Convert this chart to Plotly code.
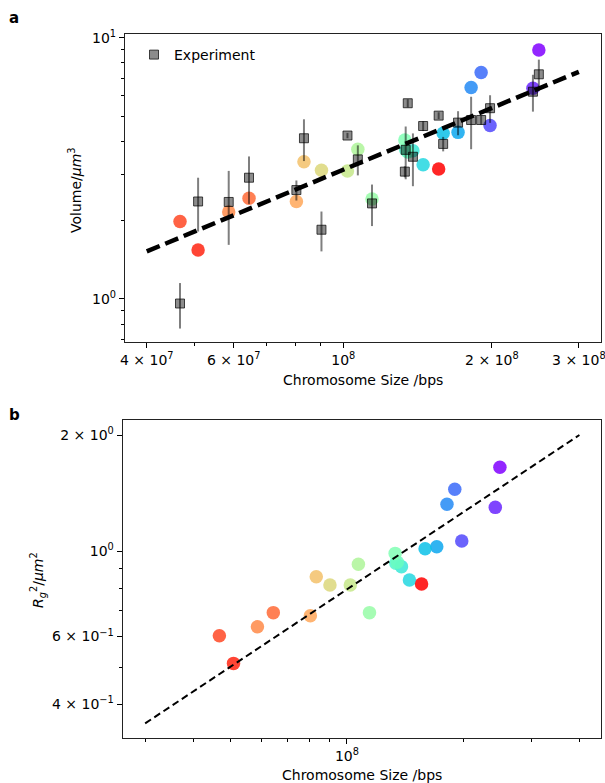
import math
import plotly.graph_objects as go

# ---------------- data ----------------
chromosomes = ["chr1", "chr2", "chr3", "chr4", "chr5", "chr6", "chr7", "chr8", "chr9",
               "chr10", "chr11", "chr12", "chr13", "chr14", "chr15", "chr16", "chr17",
               "chr18", "chr19", "chr20", "chr21", "chr22", "chrX"]
size_bp = [248.96e6, 242.19e6, 198.30e6, 190.21e6, 181.54e6, 170.81e6, 159.35e6,
           145.14e6, 138.39e6, 133.80e6, 135.09e6, 133.28e6, 114.36e6, 107.04e6,
           101.99e6, 90.34e6, 83.26e6, 80.37e6, 58.62e6, 64.44e6, 46.71e6, 50.82e6,
           156.04e6]

# panel a: simulated volume (circles)
volume_sim = [8.97, 6.40, 4.61, 7.35, 6.44, 4.34, 4.31, 3.26, 3.69, 3.72, 3.65, 4.06,
              2.41, 3.74, 3.09, 3.11, 3.35, 2.36, 2.15, 2.43, 1.98, 1.54, 3.14]
# panel a: experimental volume (squares) and errors
volume_exp = [7.24, 6.21, 5.37, 4.84, 4.84, 4.73, 3.92, 4.59, 3.50, 3.72, 5.61, 3.07,
              2.32, 3.42, 4.22, 1.84, 4.12, 2.61, 2.35, 2.91, 0.96, 2.36, 5.03]
volume_err = [1.00, 1.00, 0.65, 0.20, 1.10, 0.50, 0.25, 0.20, 0.80, 0.85, 0.20, 0.15,
              0.42, 0.45, 0.10, 0.32, 0.75, 0.23, 0.74, 0.60, 0.19, 0.55, 0.15]
fit_a_x = [4e7, 3e8]
fit_a_y = [1.52, 7.40]

# panel b: Rg^2
rg2 = [1.649, 1.298, 1.062, 1.446, 1.322, 1.026, 1.014, 0.841, 0.911, 0.929, 0.935,
       0.986, 0.692, 0.924, 0.816, 0.816, 0.858, 0.679, 0.636, 0.692, 0.603, 0.511,
       0.821]
fit_b_x = [3e7, 4e8]
fit_b_y = [0.357, 2.00]

# tick definitions
a_x_major = [4e7, 6e7, 1e8, 2e8, 3e8]
a_x_major_text = ["4 × 10<sup>7</sup>", "6 × 10<sup>7</sup>", "10<sup>8</sup>",
                  "2 × 10<sup>8</sup>", "3 × 10<sup>8</sup>"]
a_x_minor = [5e7, 7e7, 8e7, 9e7]
a_y_major = [1, 10]
a_y_major_text = ["10<sup>0</sup>", "10<sup>1</sup>"]
a_y_minor = [0.7, 0.8, 0.9, 2, 3, 4, 5, 6, 7, 8, 9]

b_x_major = [1e8]
b_x_major_text = ["10<sup>8</sup>"]
b_x_minor = [3e7, 4e7, 5e7, 6e7, 7e7, 8e7, 9e7, 2e8, 3e8, 4e8]
b_y_major = [0.4, 0.6, 1.0, 2.0]
b_y_major_text = ["4 × 10<sup>−1</sup>", "6 × 10<sup>−1</sup>", "10<sup>0</sup>",
                  "2 × 10<sup>0</sup>"]
b_y_minor = [0.5, 0.7, 0.8, 0.9]


# ---------------- style ----------------
def rainbow(c):
    r = min(1.0, max(0.0, abs(2 * c - 0.5)))
    g = min(1.0, max(0.0, math.sin(c * math.pi)))
    b = min(1.0, max(0.0, math.cos(c * math.pi / 2)))
    return "rgb(%d,%d,%d)" % (round(r * 255), round(g * 255), round(b * 255))


n = len(chromosomes)
colors = [rainbow(i / (n - 1)) for i in range(n)]

W, H = 605, 783
FONT = "DejaVu Sans"


def px_x(p):
    return p / W


def px_y(p):
    return 1 - p / H


fig = go.Figure()

# panel a circles
fig.add_trace(go.Scatter(
    x=size_bp, y=volume_sim, mode="markers", xaxis="x", yaxis="y",
    marker=dict(size=13.5, color=colors, opacity=0.85, line=dict(width=0)),
    showlegend=False, hoverinfo="skip"))
# panel a experiment squares
fig.add_trace(go.Scatter(
    x=size_bp, y=volume_exp, mode="markers", xaxis="x", yaxis="y",
    name="Experiment",
    error_y=dict(type="data", array=volume_err, visible=True,
                 color="rgba(0,0,0,0.5)", thickness=2, width=0),
    marker=dict(symbol="square", size=9, color="rgba(0,0,0,0.45)",
                line=dict(color="rgba(0,0,0,0.7)", width=1)),
    showlegend=True))
# panel a fit
fig.add_trace(go.Scatter(
    x=fit_a_x, y=fit_a_y, mode="lines", xaxis="x", yaxis="y",
    line=dict(color="black", width=4.5, dash="14px,6px"),
    showlegend=False, hoverinfo="skip"))

# panel b circles
fig.add_trace(go.Scatter(
    x=size_bp, y=rg2, mode="markers", xaxis="x2", yaxis="y2",
    marker=dict(size=13.5, color=colors, opacity=0.85, line=dict(width=0)),
    showlegend=False, hoverinfo="skip"))
# panel b fit
fig.add_trace(go.Scatter(
    x=fit_b_x, y=fit_b_y, mode="lines", xaxis="x2", yaxis="y2",
    line=dict(color="black", width=2, dash="7px,4px"),
    showlegend=False, hoverinfo="skip"))


def axis(domain, rng, major, major_text, minor, anchor):
    return dict(
        type="log", domain=domain, range=rng, anchor=anchor, automargin=False,
        tickmode="array", tickvals=major, ticktext=major_text,
        ticks="outside", ticklen=5, tickwidth=1, tickcolor="black",
        ticklabeloverflow="allow",
        minor=dict(tickmode="array", tickvals=minor, ticks="outside",
                   ticklen=3, tickwidth=1, tickcolor="black", showgrid=False),
        showline=True, linecolor="#222", linewidth=1.2, mirror=True,
        showgrid=False, zeroline=False,
        tickfont=dict(family=FONT, size=14, color="black"),
    )


layout = dict(
    template="none",
    width=W, height=H, margin=dict(l=0, r=0, t=0, b=0, autoexpand=False),
    paper_bgcolor="white", plot_bgcolor="white",
    font=dict(family=FONT, size=14, color="black"),
    xaxis=axis([px_x(125), px_x(601)], [7.558, 8.522], a_x_major, a_x_major_text,
               a_x_minor, "y"),
    yaxis=axis([px_y(342), px_y(34)], [-0.165, 1.014], a_y_major, a_y_major_text,
               a_y_minor, "x"),
    xaxis2=axis([px_x(122.7), px_x(601)], [7.419, 8.658], b_x_major, b_x_major_text,
                b_x_minor, "y2"),
    yaxis2=axis([px_y(737.7), px_y(420)], [-0.4844, 0.340], b_y_major, b_y_major_text,
                b_y_minor, "x2"),
    legend=dict(x=px_x(134), y=px_y(39), xanchor="left", yanchor="top",
                bgcolor="rgba(0,0,0,0)", borderwidth=0,
                font=dict(family=FONT, size=14, color="black")),
    annotations=[
        dict(text="<b>a</b>", x=px_x(14), y=px_y(18), xref="paper", yref="paper",
             showarrow=False, xanchor="center", yanchor="middle",
             font=dict(family=FONT, size=15, color="black")),
        dict(text="<b>b</b>", x=px_x(14), y=px_y(415), xref="paper", yref="paper",
             showarrow=False, xanchor="center", yanchor="middle",
             font=dict(family=FONT, size=15, color="black")),
        dict(text="Chromosome Size /bps", x=px_x(363), y=px_y(380), xref="paper",
             yref="paper", showarrow=False, xanchor="center", yanchor="middle",
             font=dict(family=FONT, size=14, color="black")),
        dict(text="Volume/<i>μm</i><sup>3</sup>", x=px_x(75), y=px_y(190),
             xref="paper", yref="paper", showarrow=False, textangle=-90,
             xanchor="center", yanchor="middle",
             font=dict(family=FONT, size=14, color="black")),
        dict(text="Chromosome Size /bps", x=px_x(362), y=px_y(775), xref="paper",
             yref="paper", showarrow=False, xanchor="center", yanchor="middle",
             font=dict(family=FONT, size=14, color="black")),
        dict(text="<i>R</i><sub><i>g</i></sub><sup>2</sup>/<i>μm</i><sup>2</sup>",
             x=px_x(38), y=px_y(580), xref="paper", yref="paper", showarrow=False,
             textangle=-90, xanchor="center", yanchor="middle",
             font=dict(family=FONT, size=14, color="black")),
    ],
)
fig.update_layout(**layout)

fig.write_html("out.html",
               config={"displayModeBar": False},
               post_script="document.body.style.margin='0';"
                           "document.body.style.padding='0';")
